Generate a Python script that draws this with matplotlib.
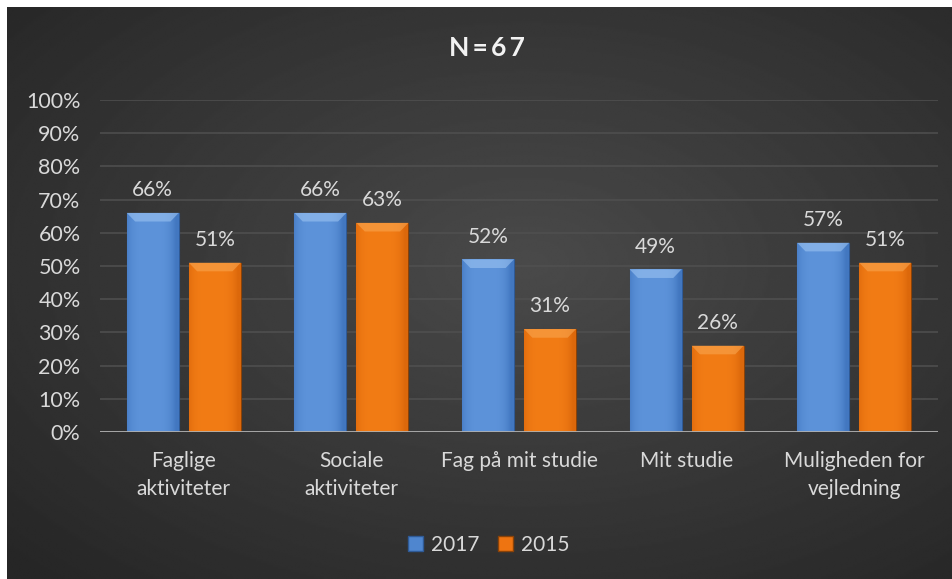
import numpy as np
import matplotlib
matplotlib.use("Agg")
import matplotlib.pyplot as plt
from matplotlib.patches import Patch, Polygon

plt.rcParams["font.family"] = ["Lato", "DejaVu Sans"]

# data
categories = ["Faglige\naktiviteter", "Sociale\naktiviteter", "Fag på mit studie",
              "Mit studie", "Muligheden for\nvejledning"]
series_names = ["2017", "2015"]
vals_2017 = [66, 66, 52, 49, 57]
vals_2015 = [51, 63, 31, 26, 51]
y_ticks = [0, 10, 20, 30, 40, 50, 60, 70, 80, 90, 100]
title = "N=67"

TXT = "#d9d9d9"
W, H = 953, 579
fig = plt.figure(figsize=(W / 100, H / 100), dpi=100)
fig.patch.set_facecolor("white")

# dark radial background
bg = fig.add_axes([7 / W, 0, (W - 8) / W, (H - 7) / H])
bg.set_axis_off()
yy, xx = np.mgrid[0:1:300j, 0:1:500j]
r = np.sqrt(((xx - 0.55) / 0.75) ** 2 + ((yy - 0.45) / 0.75) ** 2)
shade = 0.29 - 0.14 * np.clip(r, 0, 1)
bg.imshow(shade, cmap="gray", vmin=0, vmax=1, aspect="auto",
          extent=[0, 1, 0, 1], interpolation="bilinear")
bg.set_xlim(0, 1)
bg.set_ylim(0, 1)

ax = fig.add_axes([100 / W, 1 - 432 / H, 838 / W, 332 / H])
ax.set_facecolor("none")
x = np.arange(len(categories))
bw = 0.31
off = 0.185


def grad_bar(bar, c_light, c_dark, c_top):
    bx, by = bar.get_x(), bar.get_y()
    w, h = bar.get_width(), bar.get_height()
    g = np.linspace(0, 1, 50)
    g = 1 - (2 * np.abs(g - 0.45)) ** 4
    c1 = np.array(matplotlib.colors.to_rgb(c_dark))
    c2 = np.array(matplotlib.colors.to_rgb(c_light))
    img = c1[None, None, :] + (c2 - c1)[None, None, :] * np.clip(g, 0, 1)[None, :, None]
    im = ax.imshow(img, extent=[bx, bx + w, by, by + h], aspect="auto",
                   zorder=3, interpolation="bilinear")
    im.set_clip_path(bar)
    # top bevel
    bev = 2.6
    dx = w * 0.16
    ax.add_patch(Polygon([[bx, by + h], [bx + w, by + h], [bx + w - dx, by + h - bev],
                          [bx + dx, by + h - bev]], closed=True, facecolor=c_top,
                         edgecolor="none", zorder=4, alpha=0.6))


b1 = ax.bar(x - off, vals_2017, bw, color="#4f86cf", edgecolor="#2f5a96",
            linewidth=0.8, zorder=3)
b2 = ax.bar(x + off, vals_2015, bw, color="#ee7411", edgecolor="#8a4208",
            linewidth=0.8, zorder=3)
for b in b1:
    grad_bar(b, "#5d93da", "#4277c0", "#9cc4f2")
for b in b2:
    grad_bar(b, "#f27c15", "#dc680b", "#f9a650")

for bars, vals in ((b1, vals_2017), (b2, vals_2015)):
    for b, v in zip(bars, vals):
        ax.text(b.get_x() + b.get_width() / 2, v + 3.8, f"{v}%", ha="center",
                va="bottom", color=TXT, fontsize=15)

ax.set_xlim(-0.5, len(categories) - 0.5)
ax.set_ylim(0, 100)
ax.set_yticks(y_ticks)
ax.set_yticklabels([f"{t}%" for t in y_ticks], color=TXT, fontsize=15.5)
ax.set_xticks(x)
ax.set_xticklabels(categories, color=TXT, fontsize=15, linespacing=1.45)
ax.tick_params(axis="both", length=0)
ax.tick_params(axis="x", pad=14)
ax.tick_params(axis="y", pad=14)
ax.grid(axis="y", color="#505050", linewidth=1.1, zorder=0)
for s in ax.spines.values():
    s.set_visible(False)
ax.axhline(0, color="#b0b0b0", linewidth=2, zorder=5)

fig.text(0.5 + 10 / W, 1 - 48 / H, "\u2009".join(title), ha="center",
         va="center", color="#f2f2f2", fontsize=19, fontweight="bold")

handles = [Patch(facecolor="#4f86cf", edgecolor="#2f5a96"),
           Patch(facecolor="#ee7411", edgecolor="#8a4208")]
fig.legend(handles, series_names, loc="center", bbox_to_anchor=(0.513, 1 - 545 / H),
           ncol=2, frameon=False, fontsize=15, labelcolor=TXT, handlelength=0.7,
           handleheight=0.7, handletextpad=0.4, columnspacing=0.9)

fig.savefig("out.png", dpi=100)
